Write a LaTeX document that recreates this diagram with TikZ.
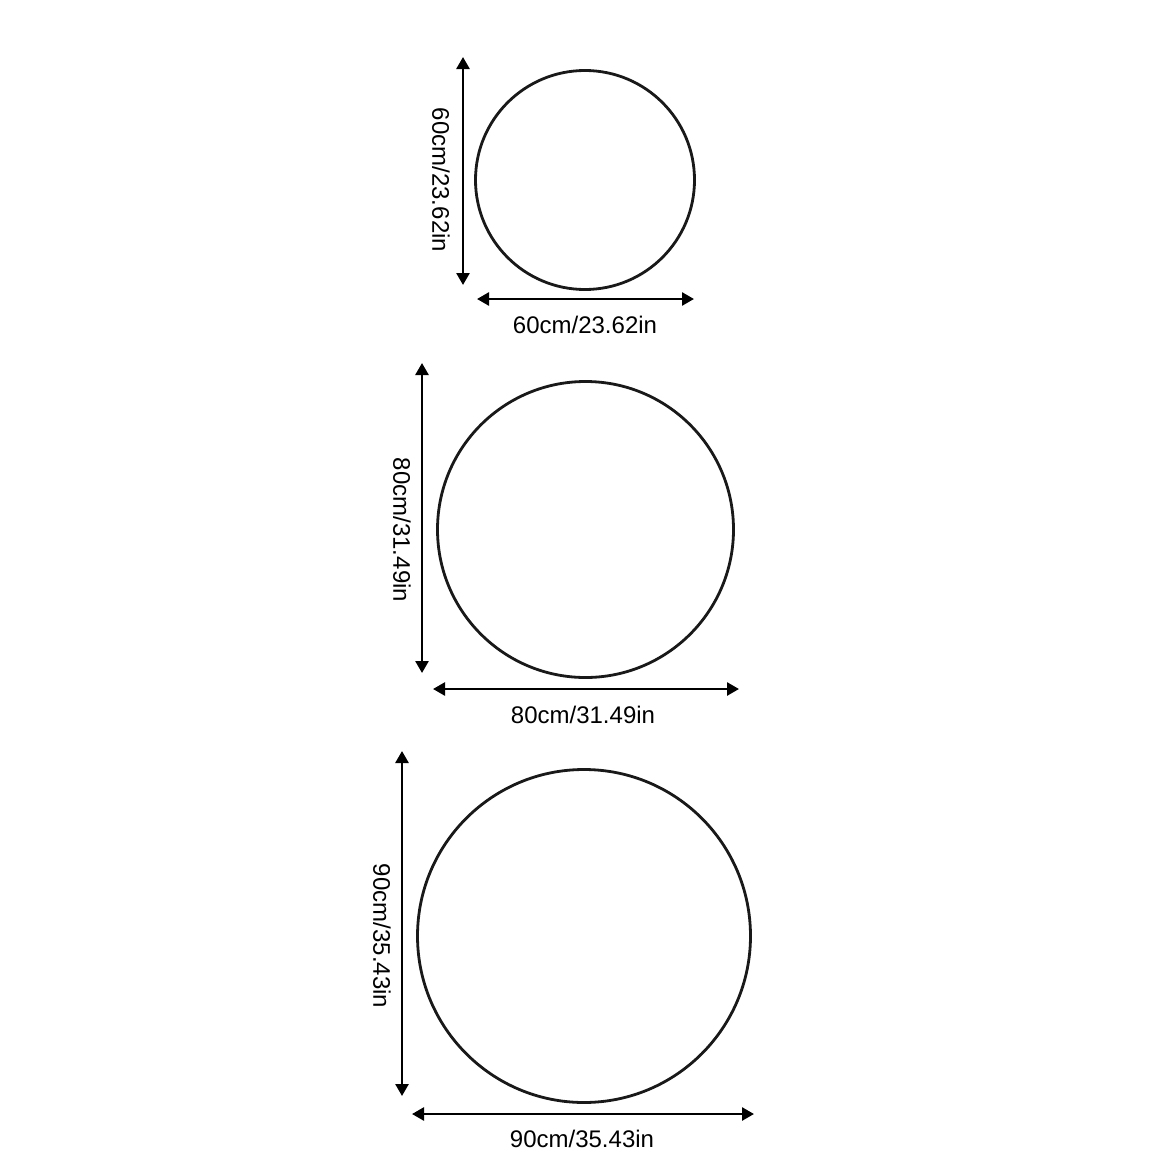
\documentclass[tikz,border=0pt]{standalone}
\usepackage{fontspec}
\setmainfont{Liberation Sans}
\usetikzlibrary{arrows.meta}

\tikzset{
	ring/.style={draw, circle, line width=2.8pt, inner sep=0pt, color=black!90},
	dim/.style={line width=2.6pt, {Triangle[length=12pt, width=13pt]}-{Triangle[length=12pt, width=13pt]}},
	size label/.style={font=\fontsize{24}{28}\selectfont, inner sep=0pt}
}

\begin{document}
\begin{tikzpicture}[x=1pt, y=-1pt]
	\useasboundingbox (0,0) rectangle (1170,1170);
	
	% small mirror
	\node [ring, minimum size=219pt] (small) at (585,180) {};
	\coordinate (small top) at (463,57);
	\coordinate (small bottom) at (463,285);
	\coordinate (small left) at (477,299);
	\coordinate (small right) at (694,299);
	\draw [dim] (small top) -- (small bottom);
	\draw [dim] (small left) -- (small right);
	\node [size label, rotate=-90] (small h) at (441,180) {60cm/23.62in};
	\node [size label] (small w) at (585,325) {60cm/23.62in};
	
	% medium mirror
	\node [ring, minimum size=296pt] (medium) at (585.5,529.5) {};
	\coordinate (medium top) at (422,363);
	\coordinate (medium bottom) at (422,673);
	\coordinate (medium left) at (433,689);
	\coordinate (medium right) at (739,689);
	\draw [dim] (medium top) -- (medium bottom);
	\draw [dim] (medium left) -- (medium right);
	\node [size label, rotate=-90] (medium h) at (402,530) {80cm/31.49in};
	\node [size label] (medium w) at (583,715) {80cm/31.49in};
	
	% large mirror
	\node [ring, minimum size=333pt] (large) at (584,936) {};
	\coordinate (large top) at (402,751);
	\coordinate (large bottom) at (402,1096);
	\coordinate (large left) at (412,1114);
	\coordinate (large right) at (754,1114);
	\draw [dim] (large top) -- (large bottom);
	\draw [dim] (large left) -- (large right);
	\node [size label, rotate=-90] (large h) at (382,936) {90cm/35.43in};
	\node [size label] (large w) at (582,1139) {90cm/35.43in};
	
\end{tikzpicture}
\end{document}
